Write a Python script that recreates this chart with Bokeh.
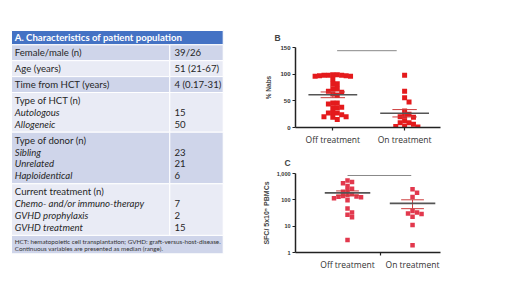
import numpy as np
from bokeh.plotting import figure
from bokeh.layouts import row, column
from bokeh.models import Range1d, FixedTicker
from bokeh.core.properties import value
from bokeh.embed import file_html
from bokeh.resources import INLINE

# ---------------- data ----------------
table_title = "A. Characteristics of patient population"
row_labels = [
    ["Female/male (n)"],
    ["Age (years)"],
    ["Time from HCT (years)"],
    ["Type of HCT (n)", "Autologous", "Allogeneic"],
    ["Type of donor (n)", "Sibling", "Unrelated", "Haploidentical"],
    ["Current treatment (n)", "Chemo- and/or immuno-therapy", "GVHD prophylaxis", "GVHD treatment"],
]
row_values = [
    ["39/26"],
    ["51 (21-67)"],
    ["4 (0.17-31)"],
    ["", "15", "50"],
    ["", "23", "21", "6"],
    ["", "7", "2", "15"],
]
footnote = [
    "HCT: hematopoietic cell transplantation; GVHD: graft-versus-host-disease.",
    "Continuous variables are presented as median (range).",
]

groups = ["Off treatment", "On treatment"]
nabs_off = [99, 99, 98, 98, 98, 97, 97, 96, 96, 90, 82, 81, 73, 72, 68, 66, 63, 60,
            46, 46, 44, 38, 37, 37, 28, 27, 27, 24, 20, 20, 19, 15]
nabs_on = [98, 68, 56, 48, 31, 25, 21, 20, 19, 12, 9, 9, 6, 2, 2, 1]
sfc_off = [548, 473, 422, 335, 266, 230, 204, 163, 150, 141, 133, 130, 126, 115, 97,
           47, 33, 27, 22, 3]
sfc_on = [251, 186, 129, 38, 33, 30, 29, 23, 11, 1.9]

# ---------------- helpers ----------------
FONT_T = "Lato"
TXT = "#262626"


def swarm(vals, to_px, unit_px, size_px):
    idx = sorted(range(len(vals)), key=lambda i: -vals[i])
    placed = []
    offs = [0.0] * len(vals)
    step = size_px * 0.5
    for i in idx:
        ypx = to_px(vals[i])
        cands = [0.0]
        for k in range(1, 40):
            cands += [k * step, -k * step]
        for c in cands:
            ok = True
            for (px, py) in placed:
                if abs(c - px) < size_px * 0.95 and abs(ypx - py) < size_px * 0.95:
                    ok = False
                    break
            if ok:
                offs[i] = c
                placed.append((c, ypx))
                break
    return [o / unit_px for o in offs]


def style_axes(p):
    p.xgrid.visible = False
    p.ygrid.visible = False
    p.outline_line_color = None
    for ax in (p.xaxis[0], p.yaxis[0]):
        ax.axis_line_width = 1.5
        ax.axis_line_color = "#222222"
        ax.major_tick_line_color = "#222222"
        ax.major_tick_line_width = 1.2
        ax.major_tick_in = 0
        ax.major_tick_out = 3
        ax.minor_tick_line_color = None


def add_stats(p, cats, data, half, color_mean="#555555", color_sem="#cc3b3b"):
    for c, d in zip(cats, data):
        arr = np.array(d, dtype=float)
        m = arr.mean()
        s = arr.std(ddof=1) / np.sqrt(len(arr))
        p.segment(x0=[c], x1=[c], y0=[m - s], y1=[m + s], line_color=color_sem, line_width=1)
        p.segment(x0=[c - half / 2, c - half / 2], x1=[c + half / 2, c + half / 2],
                  y0=[m - s, m + s], y1=[m - s, m + s], line_color=color_sem, line_width=1)
        p.segment(x0=[c - half], x1=[c + half], y0=[m], y1=[m], line_color=color_mean, line_width=1.6)


# ---------------- table (A) ----------------
tbl = figure(width=252, height=276, x_range=Range1d(0, 252), y_range=Range1d(276, 0),
             x_axis_location=None, y_axis_location=None, min_border=0,
             toolbar_location=None, output_backend="svg")
tbl.xgrid.visible = False
tbl.ygrid.visible = False
tbl.outline_line_color = None

L, R, S = 11, 222.7, 169.3
LINE, PAD = 11.9, 4.0
top = 30.0
hdr_bot = 44.3
FS = value("9.6px")
tbl.quad(left=[L], right=[R], top=[top], bottom=[hdr_bot], fill_color="#4472C4",
         line_color="white", line_width=1)
tbl.text(x=[L + 3.3], y=[(top + hdr_bot) / 2], text=[table_title], text_color="white",
         text_font=value(FONT_T), text_font_style="bold", text_font_size=FS,
         text_baseline="middle")

dark, light = "#CFD5EA", "#E9EBF5"
y = hdr_bot
lx, ly, lt, ix, iy, it, vx, vy, vt = [], [], [], [], [], [], [], [], []
ql, qr, qt, qb, qc = [], [], [], [], []
for r, (labs, vals) in enumerate(zip(row_labels, row_values)):
    h = len(labs) * LINE + PAD
    col = dark if r % 2 == 0 else light
    ql += [L, S]; qr += [S, R]; qt += [y, y]; qb += [y + h, y + h]; qc += [col, col]
    for i, (lab, v) in enumerate(zip(labs, vals)):
        yy = y + PAD / 2 + LINE * (i + 0.5)
        if i == 0:
            lx.append(L + 3.3); ly.append(yy); lt.append(lab)
        else:
            ix.append(L + 3.3); iy.append(yy); it.append(lab)
        if v:
            vx.append(S + 4.7); vy.append(yy); vt.append(v)
    y += h
fh = 18.4
ql.append(L); qr.append(R); qt.append(y); qb.append(y + fh); qc.append(dark)
tbl.quad(left=ql, right=qr, top=qt, bottom=qb, fill_color=qc, line_color="white", line_width=1)
tbl.text(x=lx, y=ly, text=lt, text_color=TXT, text_font=value(FONT_T),
         text_font_size=FS, text_baseline="middle")
tbl.text(x=ix, y=iy, text=it, text_color=TXT, text_font=value(FONT_T), text_font_style="italic",
         text_font_size=FS, text_baseline="middle")
tbl.text(x=vx, y=vy, text=vt, text_color=TXT, text_font=value(FONT_T),
         text_font_size=FS, text_baseline="middle")
tbl.text(x=[L + 3.3] * len(footnote), y=[y + 5.7 + 7.7 * i for i in range(len(footnote))],
         text=footnote, text_color="#333333", text_font=value(FONT_T),
         text_font_size=value("6.3px"), text_baseline="middle")

# ---------------- plot B ----------------
pB = figure(width=252, height=150, x_range=Range1d(0.48, 2.5), y_range=Range1d(0, 150),
            min_border_left=43, min_border_right=45, min_border_top=47, min_border_bottom=23,
            toolbar_location=None, output_backend="svg", title="B")
style_axes(pB)
pB.title.align = "left"
pB.title.offset = -21
pB.title.text_font = "Liberation Sans"
pB.title.text_font_size = "8.5px"
pB.title.text_font_style = "bold"
pB.title.standoff = 10
pB.yaxis.ticker = FixedTicker(ticks=[0, 50, 100, 150])
pB.yaxis.major_label_text_font = "Liberation Sans"
pB.yaxis.major_label_text_font_style = "bold"
pB.yaxis.major_label_text_font_size = "6px"
pB.yaxis.major_label_text_color = "#333333"
pB.yaxis.major_label_standoff = 2
pB.yaxis.axis_label = "% Nabs"
pB.yaxis.axis_label_text_font = "Liberation Sans"
pB.yaxis.axis_label_text_font_size = "6.5px"
pB.yaxis.axis_label_text_font_style = "bold"
pB.yaxis.axis_label_text_color = "#444444"
pB.yaxis.axis_label_standoff = 5
pB.xaxis.ticker = FixedTicker(ticks=[1, 2])
pB.xaxis.major_label_overrides = {1: groups[0], 2: groups[1]}
pB.xaxis.major_label_text_font = "Open Sans"
pB.xaxis.major_label_text_font_size = "8.5px"
pB.xaxis.major_label_text_color = "#333333"
pB.xaxis.major_label_standoff = 3

ypxB = lambda v: v * 80.0 / 150.0
for c, d in zip([1, 2], [nabs_off, nabs_on]):
    off = swarm(d, ypxB, 81.0, 5.0)
    pB.scatter(x=[c + o for o in off], y=d, marker="square", size=5,
               fill_color="#e41a1c", line_color=None)
add_stats(pB, [1, 2], [nabs_off, nabs_on], 0.34)
pB.segment(x0=[1.06], x1=[1.89], y0=[144], y1=[144], line_color="#888888", line_width=1)
pB.text(x=[1.47], y=[145], text=["*"], text_color="#555555", text_font_size=value("7px"),
        text_align="center", text_baseline="bottom")

# ---------------- plot C ----------------
pC = figure(width=252, height=126, x_range=Range1d(0.2, 2.43), y_range=Range1d(1, 1000),
            y_axis_type="log",
            min_border_left=43, min_border_right=64, min_border_top=22, min_border_bottom=24,
            toolbar_location=None, output_backend="svg", title="C")
style_axes(pC)
pC.title.align = "left"
pC.title.offset = -11
pC.title.text_font = "Liberation Sans"
pC.title.text_font_size = "8.5px"
pC.title.text_font_style = "bold"
pC.title.standoff = 11
pC.yaxis.ticker = FixedTicker(ticks=[1, 10, 100, 1000])
pC.yaxis.major_label_overrides = {1: "1", 10: "10", 100: "100", 1000: "1,000"}
pC.yaxis.major_label_text_font = "Liberation Sans"
pC.yaxis.major_label_text_font_style = "bold"
pC.yaxis.major_label_text_font_size = "5.5px"
pC.yaxis.major_label_text_color = "#333333"
pC.yaxis.major_label_standoff = 2
pC.yaxis.axis_label = "SFC/ 5x10\u2075 PBMCs"
pC.yaxis.axis_label_text_font = "Liberation Sans"
pC.yaxis.axis_label_text_font_size = "7px"
pC.yaxis.axis_label_text_font_style = "bold"
pC.yaxis.axis_label_text_color = "#444444"
pC.yaxis.axis_label_standoff = 4
pC.xaxis.ticker = FixedTicker(ticks=[1, 2], minor_ticks=[1.5])
pC.xaxis.major_label_overrides = {1: groups[0], 2: groups[1]}
pC.xaxis.major_tick_out = 0
pC.xaxis.minor_tick_line_color = "#222222"
pC.xaxis.minor_tick_line_width = 1.2
pC.xaxis.minor_tick_in = 0
pC.xaxis.minor_tick_out = 3
pC.xaxis.major_label_text_font = "Open Sans"
pC.xaxis.major_label_text_font_size = "8.5px"
pC.xaxis.major_label_text_color = "#333333"
pC.xaxis.major_label_standoff = 3

ypxC = lambda v: np.log10(v) * 26.67
for c, d in zip([1, 2], [sfc_off, sfc_on]):
    off = swarm(d, ypxC, 65.0, 4.5)
    pC.scatter(x=[c + o for o in off], y=d, marker="square", size=4.5,
               fill_color="#e2384d", line_color=None)
add_stats(pC, [1, 2], [sfc_off, sfc_on], 0.35)
pC.segment(x0=[1.0], x1=[1.98], y0=[840], y1=[840], line_color="#888888", line_width=1)
pC.text(x=[1.49], y=[870], text=["*"], text_color="#555555", text_font_size=value("7px"),
        text_align="center", text_baseline="bottom")

layout = row(tbl, column(pB, pC))
open("out.html", "w").write(file_html(layout, INLINE))
